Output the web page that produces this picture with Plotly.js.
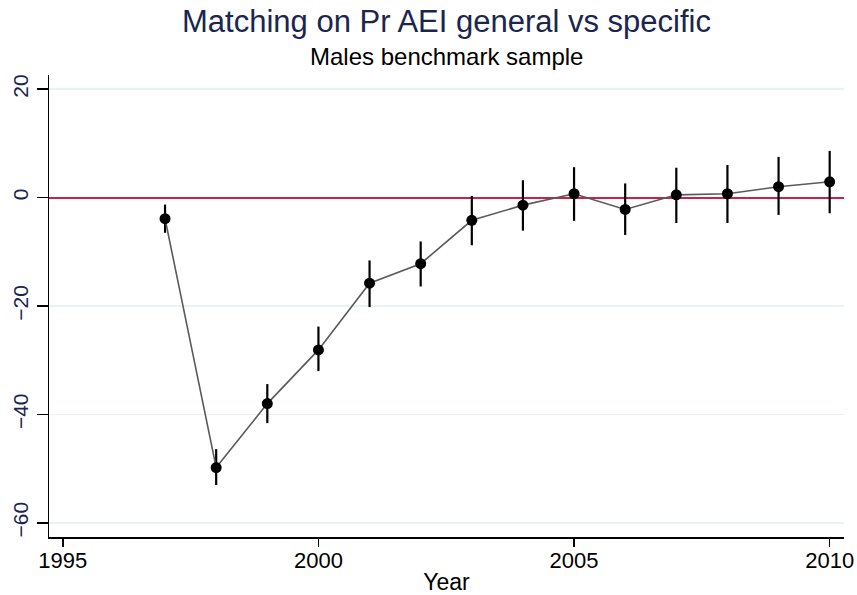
<!DOCTYPE html>
<html>
<head>
<meta charset="utf-8">
<script src="https://cdn.plot.ly/plotly-3.0.1.min.js"></script>
<style>
  html, body { margin: 0; padding: 0; background: #fff; }
  #plot { width: 857px; height: 595px; }
</style>
</head>
<body>
<div id="plot"></div>
<script>
// estimates and confidence bounds
const years    = [1997, 1998, 1999, 2000, 2001, 2002, 2003, 2004, 2005, 2006, 2007, 2008, 2009, 2010];
const estimate = [-3.9, -49.8, -38.0, -28.1, -15.8, -12.2, -4.2, -1.4, 0.7, -2.2, 0.5, 0.7, 2.0, 2.9];
const ciUpper  = [-1.3, -46.4, -34.4, -23.8, -11.6, -8.1, 0.3, 3.2, 5.6, 2.6, 5.5, 6.0, 7.5, 8.6];
const ciLower  = [-6.5, -53.0, -41.6, -32.0, -20.2, -16.4, -8.8, -6.1, -4.3, -6.9, -4.7, -4.7, -3.2, -2.9];

const xTicks = [1995, 2000, 2005, 2010];
const yTicks = [-60, -40, -20, 0, 20];
const yTickText = ['\u221260', '\u221240', '\u221220', '0', '20'];

document.addEventListener("DOMContentLoaded", function () {
  const plotDiv = document.getElementById('plot');
  const navy = '#1a2550';

  const trace = {
    x: years,
    y: estimate,
    type: 'scatter',
    mode: 'lines+markers',
    line: { color: '#5a5a5a', width: 1.6 },
    marker: { color: '#000000', size: 11 },
    error_y: {
      type: 'data',
      symmetric: false,
      array: ciUpper.map((u, i) => u - estimate[i]),
      arrayminus: estimate.map((e, i) => e - ciLower[i]),
      color: '#000000',
      thickness: 2.2,
      width: 0
    },
    hoverinfo: 'x+y'
  };

  const layout = {
    width: 857,
    height: 595,
    margin: { l: 49, r: 13, t: 75, b: 58 },
    paper_bgcolor: '#ffffff',
    plot_bgcolor: '#ffffff',
    showlegend: false,
    font: { family: 'Liberation Sans, Arial, sans-serif', color: navy },
    annotations: [
      {
        text: 'Matching on Pr AEI general vs specific',
        xref: 'paper', yref: 'paper', x: 0.5, y: 1, yshift: 73,
        xanchor: 'center', yanchor: 'top', showarrow: false,
        font: { size: 31, color: navy }
      },
      {
        text: 'Males benchmark sample',
        xref: 'paper', yref: 'paper', x: 0.5, y: 1, yshift: 34,
        xanchor: 'center', yanchor: 'top', showarrow: false,
        font: { size: 24, color: '#000000' }
      }
    ],
    xaxis: {
      range: [1994.73, 2010.28],
      tickvals: xTicks,
      ticktext: xTicks.map(String),
      ticks: 'outside',
      ticklen: 8,
      tickwidth: 1.5,
      tickcolor: '#000000',
      showline: true,
      linecolor: '#000000',
      linewidth: 1.5,
      showgrid: false,
      zeroline: false,
      ticklabelstandoff: -5,
      tickfont: { size: 22, color: '#000000' },
      title: { text: 'Year', font: { size: 23, color: '#000000' }, standoff: 6 }
    },
    yaxis: {
      range: [-62.6, 22.6],
      tickvals: yTicks,
      ticktext: yTickText,
      tickangle: -90,
      ticks: 'outside',
      ticklen: 11,
      tickwidth: 1.5,
      tickcolor: '#000000',
      showline: true,
      linecolor: '#000000',
      linewidth: 1.5,
      showgrid: true,
      gridcolor: '#eaf2f3',
      gridwidth: 1.5,
      zeroline: true,
      zerolinecolor: '#cc2050',
      zerolinewidth: 2,
      tickfont: { size: 21, color: navy }
    }
  };

  Plotly.newPlot(plotDiv, [trace], layout, { staticPlot: true })
    .catch(err => console.error('plot failed:', err));
});
</script>
</body>
</html>
